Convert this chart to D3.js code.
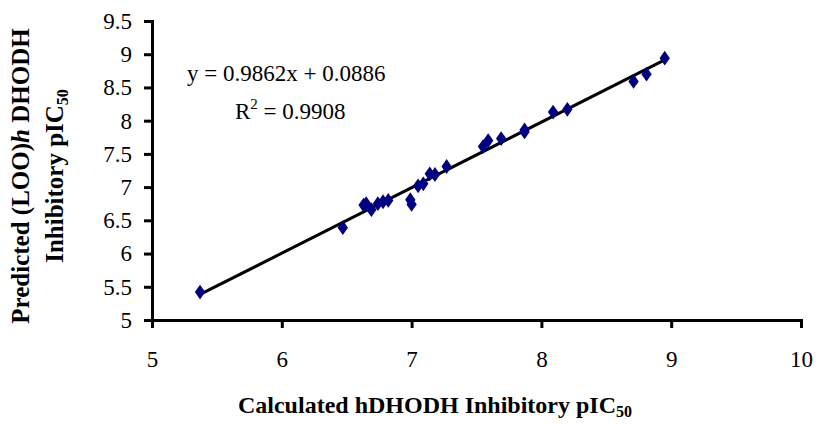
<!DOCTYPE html>
<html>
<head>
<meta charset="utf-8">
<style>
  body { margin: 0; background: #fff; }
  svg { display: block; font-family: "Liberation Serif", "Times New Roman", serif; }
</style>
</head>
<body>
<svg id="chart"></svg>
<script src="https://cdnjs.cloudflare.com/ajax/libs/d3/7.8.5/d3.min.js"></script>
<script>

  // values
  var calculated = [5.37, 6.47, 6.63, 6.65, 6.69, 6.74, 6.78, 6.82, 6.99, 7.00, 7.05, 7.09,
                    7.14, 7.18, 7.27, 7.55, 7.59, 7.69, 7.87, 7.87, 8.09, 8.20, 8.71, 8.81, 8.95];
  var predicted  = [5.42, 6.39, 6.73, 6.75, 6.66, 6.75, 6.78, 6.80, 6.81, 6.74, 7.02, 7.05,
                    7.20, 7.19, 7.31, 7.61, 7.70, 7.73, 7.86, 7.83, 8.13, 8.17, 8.59, 8.70, 8.94];
  var slope = 0.9862, intercept = 0.0886, r2 = 0.9908;
  var xTicks = [5, 6, 7, 8, 9, 10];
  var yTicks = [5, 5.5, 6, 6.5, 7, 7.5, 8, 8.5, 9, 9.5];

  var width  = 818,
      height = 424,
      margin = {left: 152, right: 17, top: 21, bottom: 104};

  var svg = d3.select('#chart')
              .attr('width', width)
              .attr('height', height);

  var x = d3.scaleLinear().domain([5, 10]).range([margin.left, width - margin.right]);
  var y = d3.scaleLinear().domain([5, 9.5]).range([height - margin.bottom, margin.top]);

  // axes
  var xAxis = svg.append('g')
      .attr('transform', 'translate(0,' + y(5) + ')')
      .call(d3.axisBottom(x).tickValues(xTicks).tickFormat(d3.format('d')).tickSizeOuter(0).tickSize(8));
  xAxis.selectAll('text').attr('y', 31).attr('font-size', 23);

  var yAxis = svg.append('g')
      .attr('transform', 'translate(' + x(5) + ',0)')
      .call(d3.axisLeft(y).tickValues(yTicks).tickFormat(function(d) { return String(d); }).tickSizeOuter(0).tickSize(8));
  yAxis.selectAll('text').attr('x', -20).attr('font-size', 23);

  svg.selectAll('.domain, .tick line').attr('stroke', '#000').attr('stroke-width', 3);
  svg.selectAll('.tick text').attr('fill', '#000').attr('font-family', '"Liberation Serif", serif');

  // trendline across the data range
  var xr = d3.extent(calculated);
  svg.append('line')
      .attr('x1', x(xr[0])).attr('y1', y(slope * xr[0] + intercept))
      .attr('x2', x(xr[1])).attr('y2', y(slope * xr[1] + intercept))
      .attr('stroke', '#000').attr('stroke-width', 3);

  // markers
  var diamond = d3.symbol().type(d3.symbolDiamond).size(70);
  svg.append('g').selectAll('path')
      .data(calculated)
    .enter().append('path')
      .attr('d', diamond)
      .attr('transform', function(d, i) { return 'translate(' + x(d) + ',' + y(predicted[i]) + ') scale(1.15,0.95)'; })
      .attr('fill', '#000080');

  // equation
  svg.append('text')
      .attr('x', 187).attr('y', 81)
      .attr('font-size', 23)
      .text('y = ' + slope + 'x + ' + intercept);
  var r = svg.append('text')
      .attr('x', 235).attr('y', 119)
      .attr('font-size', 23);
  r.append('tspan').text('R');
  r.append('tspan').attr('font-size', 15).attr('dy', -10).text('2');
  r.append('tspan').attr('dy', 10).text(' = ' + r2);

  // x title
  var xt = svg.append('text')
      .attr('x', 435).attr('y', 413)
      .attr('text-anchor', 'middle')
      .attr('font-size', 24).attr('font-weight', 'bold');
  xt.append('tspan').text('Calculated hDHODH Inhibitory pIC');
  xt.append('tspan').attr('font-size', 16).attr('dy', 4).text('50');

  // y title
  var yt = svg.append('g').attr('transform', 'translate(0,176) rotate(-90)');
  var l1 = yt.append('text')
      .attr('x', 0).attr('y', 29)
      .attr('text-anchor', 'middle')
      .attr('font-size', 25).attr('font-weight', 'bold');
  l1.append('tspan').text('Predicted (LOO)');
  l1.append('tspan').attr('font-style', 'italic').text('h');
  l1.append('tspan').text(' DHODH');
  var l2 = yt.append('text')
      .attr('x', 0).attr('y', 63)
      .attr('text-anchor', 'middle')
      .attr('font-size', 25).attr('font-weight', 'bold');
  l2.append('tspan').text('Inhibitory pIC');
  l2.append('tspan').attr('font-size', 16).attr('dy', 5).text('50');

</script>
</body>
</html>
